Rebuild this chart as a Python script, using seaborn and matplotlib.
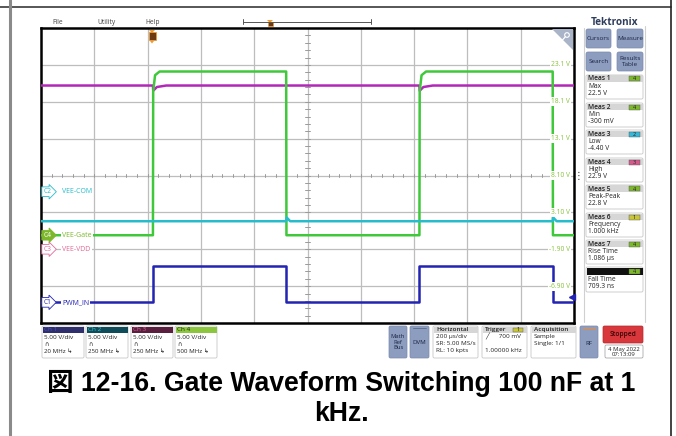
import numpy as np
import pandas as pd
import matplotlib.pyplot as plt
import matplotlib.patches as mpatches
import seaborn as sns

# Waveform data (time in us, volts per channel)
pwm_t = [-420, 0, 0, 500, 500, 1000, 1000, 1500, 1500, 1580]
pwm_v = [0.0, 0.0, 4.9, 4.9, 0.0, 0.0, 4.9, 4.9, 0.0, 0.0]

com_t = [-420, 500, 502, 515, 1500, 1502, 1515, 1580]
com_v = [-4.0, -4.0, -3.5, -4.0, -4.0, -3.5, -4.0, -4.0]

vdd_t = [-420, 0, 1, 15, 50, 1000, 1001, 1015, 1050, 1580]
vdd_v = [22.2, 22.2, 21.5, 22.0, 22.2, 22.2, 21.5, 22.0, 22.2, 22.2]

gate_t = [-420, 0, 1, 8, 25, 500, 501, 1000, 1001, 1008, 1025, 1500, 1501, 1580]
gate_v = [0.0, 0.0, 19.5, 21.7, 22.2, 22.2, 0.0, 0.0, 19.5, 21.7, 22.2, 22.2, 0.0, 0.0]

# channel settings: ground marker position (in Ch4 volts on screen) and colors
offsets = {'C1': -9.1, 'C2': 5.9, 'C3': -1.9, 'C4': 0.0}
colors = {'C1': '#2323b4', 'C2': '#27bccb', 'C3': '#b327b8', 'C4': '#3ec83a'}
ch_names = {'C1': 'PWM_IN', 'C2': 'VEE-COM', 'C3': 'VEE-VDD', 'C4': 'VEE-Gate'}

scale_labels = ['23.1 V', '18.1 V', '13.1 V', '8.10 V', '3.10 V', '-1.90 V', '-6.90 V']
scale_values = [23.1, 18.1, 13.1, 8.1, 3.1, -1.9, -6.9]

meas_names = ['Meas 1', 'Meas 2', 'Meas 3', 'Meas 4', 'Meas 5', 'Meas 6', 'Meas 7']
meas_types = ['Max', 'Min', 'Low', 'High', 'Peak-Peak', 'Frequency', 'Rise Time']
meas_values = ['22.5 V', '-300 mV', '-4.40 V', '22.9 V', '22.8 V', '1.000 kHz', '1.086 µs']
meas_src = ['4', '4', '2', '3', '4', '1', '4']

frames = []
for ch, t, v in [('C3', vdd_t, vdd_v), ('C4', gate_t, gate_v),
                 ('C2', com_t, com_v), ('C1', pwm_t, pwm_v)]:
    frames.append(pd.DataFrame({'channel': ch, 't': t,
                                'y': np.array(v) + offsets[ch]}))
df = pd.concat(frames, ignore_index=True)

sns.set_style('white')
plt.rcParams['font.family'] = ['Open Sans', 'DejaVu Sans']

fig = plt.figure(figsize=(6.76, 4.36), dpi=100)

# scope graticule
ax = fig.add_axes([41 / 676, 1 - 323 / 436, 533 / 676, 295 / 436])
ax.set_xlim(-420, 1580)
ax.set_ylim(-11.9, 28.1)
for xg in np.arange(-220, 1580, 200):
    ax.axvline(xg, color='#bdbdbd', lw=0.9, zorder=1)
for yg in scale_values:
    ax.axhline(yg, color='#bdbdbd', lw=0.9, zorder=1)
for xm in np.arange(-420, 1580, 40):
    ax.plot([xm, xm], [7.9, 8.3], color='#9a9a9a', lw=0.7, zorder=1)
for ym in np.arange(-11.9, 28.1, 1.0):
    ax.plot([572, 588], [ym, ym], color='#9a9a9a', lw=0.7, zorder=1)

sns.lineplot(data=df, x='t', y='y', hue='channel', units='channel',
             estimator=None, sort=False, palette=colors, lw=1.8,
             legend=False, ax=ax, zorder=3)

ax.set_xticks([])
ax.set_yticks([])
ax.set_xlabel('')
ax.set_ylabel('')
for s in ax.spines.values():
    s.set_visible(True)
    s.set_color('black')
    s.set_linewidth(1.8)

for lab, val in zip(scale_labels, scale_values):
    ax.text(0.992, val, lab, transform=ax.get_yaxis_transform(), ha='right',
            va='center', fontsize=4.8, color='#86c23a', zorder=5,
            bbox=dict(boxstyle='square,pad=0.15', fc='white', ec='none'))

# channel ground markers on the left
for ch in ['C1', 'C2', 'C3', 'C4']:
    col = colors[ch]
    if ch == 'C4':
        col = '#7cb82a'
    if ch == 'C3':
        col = '#e06a98'
    y0 = offsets[ch]
    filled = ch == 'C4'
    ax.text(-412, y0, ch, ha='left', va='center', fontsize=4.8,
            color='white' if filled else col, zorder=6,
            bbox=dict(boxstyle='rarrow,pad=0.2', fc=col if filled else 'white',
                      ec=col, lw=0.6))
    ax.text(-340, y0, ch_names[ch], ha='left', va='center', fontsize=5,
            color=col, zorder=6,
            bbox=dict(boxstyle='square,pad=0.15', fc='white', ec='none'))

# trigger level arrow on the right edge
ax.plot([1572], [offsets['C1'] + 0.7], marker='<', color='#2323b4',
        ms=4, clip_on=False, zorder=6)

# UI overlay in pixel coordinates
ui = fig.add_axes([0, 0, 1, 1], zorder=10)
ui.set_xlim(0, 676)
ui.set_ylim(436, 0)
ui.axis('off')
ui.patch.set_alpha(0)

ui.plot([0, 671], [7, 7], color='#3a3a3a', lw=1.2)
ui.plot([10, 10], [0, 436], color='#8a8a8a', lw=2.2)
ui.plot([671, 671], [0, 436], color='#222222', lw=1.2)

for txt, xx in [('File', 58), ('Utility', 106), ('Help', 153)]:
    ui.text(xx, 22, txt, fontsize=4.8, color='#444444', ha='center', va='center')
ui.plot([243, 371], [22, 22], color='#555555', lw=0.7)
ui.plot([243, 243], [19.5, 24.5], color='#555555', lw=0.7)
ui.plot([371, 371], [19.5, 24.5], color='#555555', lw=0.7)
for mx, my in [(270, 20), (152, 30)]:
    ui.add_patch(mpatches.Polygon([[mx - 3, my], [mx + 3, my], [mx, my + 3]],
                                  closed=True, fc='#f39a2c', ec='none'))
ui.add_patch(mpatches.Rectangle((267.5, 22), 5, 4.5, fc='#6e3a12', ec='#f39a2c', lw=0.4))
ui.add_patch(mpatches.Rectangle((148.5, 32.5), 7, 8, fc='#6e3a12', ec='#f39a2c', lw=0.5))
ui.add_patch(mpatches.Polygon([[150, 41], [154, 41], [152, 43.5]], closed=True,
                              fc='#f39a2c', ec='none'))

# magnifier corner
ui.add_patch(mpatches.Polygon([[552, 29.5], [573, 29.5], [573, 50]], closed=True,
                              fc='#a9b4c8', ec='none'))
ui.add_patch(mpatches.Circle((567, 35), 2.3, fc='none', ec='white', lw=0.8))
ui.plot([565.3, 562.5], [36.8, 40], color='white', lw=0.9)
ui.text(579, 176, '⋮', fontsize=7, color='#333333', ha='center', va='center')

# right panel
ui.plot([584, 584], [28, 322], color='#d0d0d0', lw=0.8)
ui.plot([645, 645], [26, 322], color='#d0d0d0', lw=0.8)
ui.text(614.5, 22.5, 'Tektronix', fontsize=7.2, fontweight='bold', color='#2f3d5c',
        ha='center', va='center')
btn = '#8d9dc0'
for (x0, y0, w, h, lab) in [(586, 29, 25, 19, 'Cursors'), (617, 29, 26, 19, 'Measure'),
                            (586, 52, 25, 19, 'Search'), (617, 52, 26, 19, 'Results\nTable')]:
    ui.add_patch(mpatches.FancyBboxPatch((x0, y0), w, h, boxstyle='round,pad=0,rounding_size=2',
                                         fc=btn, ec='#7a89aa', lw=0.5))
    ui.text(x0 + w / 2, y0 + h / 2, lab, fontsize=4.6, color='#1c2440', ha='center',
            va='center', linespacing=1.0)

badge_cols = {'1': '#c9c63a', '2': '#35b8d8', '3': '#d45a8c', '4': '#7cb82a'}
meas_top = [75, 103, 130, 158, 185, 213, 240]
for name, typ, val, src, yt in zip(meas_names, meas_types, meas_values, meas_src, meas_top):
    ui.add_patch(mpatches.FancyBboxPatch((586, yt), 57, 24, boxstyle='round,pad=0,rounding_size=1.5',
                                         fc='white', ec='#c8c8c8', lw=0.6))
    ui.add_patch(mpatches.Rectangle((586.5, yt + 0.5), 56, 6.5, fc='#d6d6d6', ec='none'))
    ui.text(588, yt + 4, name, fontsize=4.8, color='#222222', ha='left', va='center',
            fontweight='semibold')
    ui.add_patch(mpatches.Rectangle((629, yt + 1.5), 11, 5, fc=badge_cols[src],
                                    ec='#555555', lw=0.3))
    ui.text(634.5, yt + 4, src, fontsize=4, color='#222222', ha='center', va='center')
    ui.text(588, yt + 11.5, typ, fontsize=4.8, color='#222222', ha='left', va='center')
    ui.text(588, yt + 18.5, val, fontsize=4.8, color='#222222', ha='left', va='center')

ui.add_patch(mpatches.FancyBboxPatch((586, 267), 57, 25, boxstyle='round,pad=0,rounding_size=1.5',
                                     fc='white', ec='#c8c8c8', lw=0.6))
ui.add_patch(mpatches.Rectangle((586.5, 267.5), 56, 7, fc='#111111', ec='none'))
ui.add_patch(mpatches.Rectangle((629, 268.5), 11, 5, fc=badge_cols['4'], ec='#555555', lw=0.3))
ui.text(634.5, 271, '4', fontsize=4, color='#222222', ha='center', va='center')
ui.text(588, 279, 'Fall Time', fontsize=4.8, color='#222222', ha='left', va='center')
ui.text(588, 286, '709.3 ns', fontsize=4.8, color='#222222', ha='left', va='center')

# bottom channel boxes
ch_boxes = [(42, 'Ch 1', '#2e2f6c', '#4a56c8', '20 MHz'),
            (86, 'Ch 2', '#0f4c5a', '#39c6d6', '250 MHz'),
            (131, 'Ch 3', '#5a1f3e', '#e0609a', '250 MHz'),
            (175, 'Ch 4', '#8cc63f', '#1c2a10', '500 MHz')]
for x0, lab, hc, tc, bw in ch_boxes:
    ui.add_patch(mpatches.FancyBboxPatch((x0, 326), 42, 32, boxstyle='round,pad=0,rounding_size=1.5',
                                         fc='white', ec='#c8c8c8', lw=0.6))
    ui.add_patch(mpatches.Rectangle((x0 + 0.5, 326.5), 41, 6, fc=hc, ec='none'))
    ui.text(x0 + 2, 329.5, lab, fontsize=4.6, color=tc, ha='left', va='center')
    ui.text(x0 + 2, 337, '5.00 V/div', fontsize=4.6, color='#222222', ha='left', va='center')
    ui.text(x0 + 2, 344, '∩', fontsize=4.2, color='#222222', ha='left', va='center')
    ui.text(x0 + 2, 351, bw + ' ↳', fontsize=4.4, color='#222222', ha='left', va='center')

ui.add_patch(mpatches.FancyBboxPatch((389, 326), 18, 32, boxstyle='round,pad=0,rounding_size=1.5',
                                     fc=btn, ec='#7a89aa', lw=0.5))
ui.text(398, 342, 'Math\nRef\nBus', fontsize=4.2, color='#1c2440', ha='center', va='center',
        linespacing=1.1)
ui.add_patch(mpatches.FancyBboxPatch((410, 326), 19, 32, boxstyle='round,pad=0,rounding_size=1.5',
                                     fc=btn, ec='#7a89aa', lw=0.5))
ui.plot([413, 426], [328, 328], color='#5b6a8a', lw=0.6)
ui.text(419.5, 342, 'DVM', fontsize=4.4, color='#1c2440', ha='center', va='center')

info_boxes = [(433, 'Horizontal', ['200 µs/div', 'SR: 5.00 MS/s', 'RL: 10 kpts']),
              (482, 'Trigger', ['╱      700 mV', '', '1.00000 kHz']),
              (531, 'Acquisition', ['Sample', 'Single: 1/1', ''])]
for x0, head, lines in info_boxes:
    ui.add_patch(mpatches.FancyBboxPatch((x0, 326), 45, 32, boxstyle='round,pad=0,rounding_size=1.5',
                                         fc='white', ec='#c8c8c8', lw=0.6))
    ui.add_patch(mpatches.Rectangle((x0 + 0.5, 326.5), 44, 6, fc='#d6d6d6', ec='none'))
    ui.text(x0 + 3, 329.5, head, fontsize=4.6, color='#222222', ha='left', va='center',
            fontweight='semibold')
    for k, ln in enumerate(lines):
        ui.text(x0 + 3, 336.5 + 7 * k, ln, fontsize=4.6, color='#222222', ha='left', va='center')
ui.add_patch(mpatches.Rectangle((513, 327.5), 10, 4.5, fc=badge_cols['1'], ec='#555555', lw=0.3))
ui.text(518, 329.8, '1', fontsize=4, color='#222222', ha='center', va='center')

ui.add_patch(mpatches.FancyBboxPatch((580, 326), 18, 32, boxstyle='round,pad=0,rounding_size=1.5',
                                     fc=btn, ec='#7a89aa', lw=0.5))
ui.plot([583, 595], [328, 328], color='#f08a2c', lw=0.8)
ui.text(589, 343, 'RF', fontsize=4.4, color='#1c2440', ha='center', va='center')
ui.add_patch(mpatches.FancyBboxPatch((603, 326), 40, 17, boxstyle='round,pad=0,rounding_size=1.5',
                                     fc='#d8373c', ec='#b02a2e', lw=0.5))
ui.text(623, 334, 'Stopped', fontsize=4.8, color='#3a0505', ha='center', va='center',
        fontweight='semibold')
ui.add_patch(mpatches.FancyBboxPatch((605, 345), 38, 13, boxstyle='round,pad=0,rounding_size=1.5',
                                     fc='white', ec='#999999', lw=0.5))
ui.text(624, 351.5, '4 May 2022\n07:13:09', fontsize=4.3, color='#222222', ha='center',
        va='center', linespacing=1.0)

# caption
cap_font = ['Liberation Sans', 'Noto Sans CJK JP']
ui.text(341, 383, '図 12-16. Gate Waveform Switching 100 nF at 1', fontsize=19.2,
        fontweight='bold', family=cap_font, ha='center', va='center', color='black')
ui.text(341, 414, 'kHz.', fontsize=19.2, fontweight='bold', family=cap_font,
        ha='center', va='center', color='black')

fig.savefig('out.png', dpi=100)
